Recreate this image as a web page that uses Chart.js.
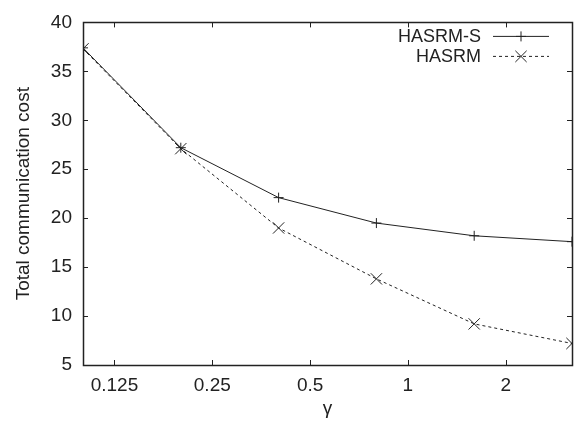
<!DOCTYPE html>
<html>
<head>
<meta charset="utf-8">
<script src="https://cdn.jsdelivr.net/npm/chart.js@4"></script>
<style>
  html, body { margin: 0; padding: 0; background: #fff; }
  #wrap { width: 581px; height: 424px; }
</style>
</head>
<body>
<div id="wrap"><canvas id="costChart" width="581" height="424"></canvas></div>
<script>
// gamma values (log axis) and measured cost for each scheme
const gammas = [0.1, 0.2, 0.4, 0.8, 1.6, 3.2];
const hasrmS = [37.4, 27.2, 22.1, 19.5, 18.2, 17.6];
const hasrm = [37.3, 27.1, 19.0, 13.8, 9.2, 7.2];
const xTicks = [0.125, 0.25, 0.5, 1, 2];
const yTicks = [5, 10, 15, 20, 25, 30, 35, 40];

const FONT = 'Liberation Sans, Arial, sans-serif';
const INK = '#222';
const SIZE = 19;

// gnuplot-like frame with inward ticks on all four sides
const framePlugin = {
    id: 'frame',
    afterDatasetsDraw(chart) {
        const { ctx, chartArea: a, scales } = chart;
        const len = 5;
        ctx.save();
        ctx.strokeStyle = INK;
        ctx.lineWidth = 1;
        ctx.beginPath();
        xTicks.forEach(v => {
            const x = Math.round(scales.x.getPixelForValue(v)) + 0.5;
            ctx.moveTo(x, a.bottom); ctx.lineTo(x, a.bottom - len);
            ctx.moveTo(x, a.top); ctx.lineTo(x, a.top + len);
        });
        yTicks.forEach(v => {
            const y = Math.round(scales.y.getPixelForValue(v)) + 0.5;
            ctx.moveTo(a.left, y); ctx.lineTo(a.left + len, y);
            ctx.moveTo(a.right, y); ctx.lineTo(a.right - len, y);
        });
        ctx.stroke();
        ctx.lineWidth = 1.5;
        ctx.strokeRect(Math.round(a.left) + 0.5, Math.round(a.top) + 0.5,
            Math.round(a.right - a.left), Math.round(a.bottom - a.top));
        ctx.restore();
    }
};

// legend in the top right corner: label, then line sample with marker
const keyPlugin = {
    id: 'key',
    afterDatasetsDraw(chart) {
        const { ctx, chartArea: a } = chart;
        ctx.save();
        ctx.font = '18px ' + FONT;
        ctx.fillStyle = INK;
        ctx.textAlign = 'right';
        ctx.textBaseline = 'middle';
        chart.data.datasets.forEach((ds, i) => {
            const y = a.top + 14 + i * 20;
            const x1 = a.right - 79, x2 = a.right - 23;
            ctx.fillText(ds.label, a.right - 91, y + 1);
            ctx.strokeStyle = INK;
            ctx.lineWidth = 1;
            ctx.setLineDash(ds.borderDash || []);
            ctx.beginPath();
            ctx.moveTo(x1, y); ctx.lineTo(x2, y);
            ctx.stroke();
            ctx.setLineDash([]);
            Chart.helpers.drawPoint(ctx, {
                pointStyle: ds.pointStyle, radius: ds.pointRadius, borderWidth: 1
            }, (x1 + x2) / 2, y);
        });
        ctx.restore();
    }
};

new Chart(document.getElementById('costChart'), {
    type: 'line',
    data: {
        datasets: [{
            label: 'HASRM-S',
            data: gammas.map((g, i) => ({ x: g, y: hasrmS[i] })),
            borderColor: INK,
            borderWidth: 1,
            pointStyle: 'cross',
            pointRadius: 5,
            pointBorderColor: INK,
            pointBorderWidth: 1
        }, {
            label: 'HASRM',
            data: gammas.map((g, i) => ({ x: g, y: hasrm[i] })),
            borderColor: INK,
            borderWidth: 1,
            borderDash: [3, 3],
            pointStyle: 'crossRot',
            pointRadius: 8,
            pointBorderColor: INK,
            pointBorderWidth: 1
        }]
    },
    options: {
        responsive: false,
        animation: false,
        layout: { padding: { top: 19, right: 5, left: 0, bottom: 0 } },
        plugins: { legend: { display: false }, tooltip: { enabled: false } },
        elements: { line: { tension: 0 } },
        scales: {
            x: {
                type: 'logarithmic',
                min: 0.1,
                max: 3.2,
                afterBuildTicks: s => { s.ticks = xTicks.map(v => ({ value: v })); },
                afterFit: s => { s.height = 59; },
                grid: { display: false, drawTicks: false },
                border: { display: false },
                ticks: {
                    autoSkip: false, maxRotation: 0, padding: 9,
                    color: INK, font: { family: FONT, size: SIZE },
                    callback: v => String(v)
                },
                title: {
                    display: true, text: 'γ', color: INK,
                    font: { family: FONT, size: SIZE }, padding: { top: 4 }
                }
            },
            y: {
                min: 5,
                max: 40,
                afterBuildTicks: s => { s.ticks = yTicks.map(v => ({ value: v })); },
                afterFit: s => { s.width = 83; },
                grid: { display: false, drawTicks: false },
                border: { display: false },
                ticks: {
                    padding: 11, color: INK,
                    font: { family: FONT, size: SIZE }
                },
                title: {
                    display: true, text: 'Total communication cost', color: INK,
                    font: { family: FONT, size: SIZE }, padding: { bottom: 0, top: 12 }
                }
            }
        }
    },
    plugins: [framePlugin, keyPlugin]
});
</script>
</body>
</html>
